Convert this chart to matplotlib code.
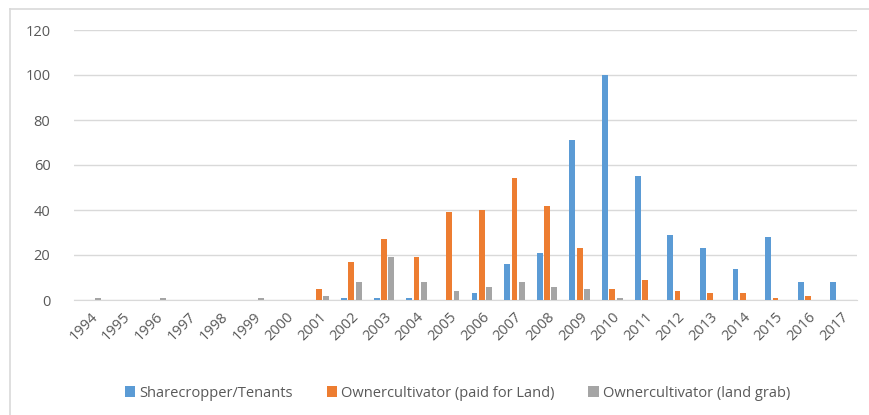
import matplotlib
matplotlib.use("Agg")
import matplotlib.pyplot as plt
import numpy as np

years = [str(y) for y in range(1994, 2018)]
sharecropper = [0, 0, 0, 0, 0, 0, 0, 0, 1, 1, 1, 0, 3, 16, 21, 71, 100, 55, 29, 23, 14, 28, 8, 8]
paid_for_land = [0, 0, 0, 0, 0, 0, 0, 5, 17, 27, 19, 39, 40, 54, 42, 23, 5, 9, 4, 3, 3, 1, 2, 0]
land_grab = [1, 0, 1, 0, 0, 1, 0, 2, 8, 19, 8, 4, 6, 8, 6, 5, 1, 0, 0, 0, 0, 0, 0, 0]

series_names = ["Sharecropper/Tenants", "Ownercultivator (paid for Land)", "Ownercultivator (land grab)"]
colors = ["#5b9bd5", "#ed7d31", "#a5a5a5"]

plt.rcParams['font.family'] = ['Open Sans', 'DejaVu Sans']

W, H = 869, 415
fig = plt.figure(figsize=(W / 100, H / 100), dpi=100)
ax = fig.add_axes([74 / W, 1 - 300 / H, (857 - 74) / W, 270 / H])

x = np.arange(len(years))
w = 0.18
step = 0.225
for i, (vals, name, c) in enumerate(zip([sharecropper, paid_for_land, land_grab], series_names, colors)):
    ax.bar(x + (i - 1) * step, vals, width=w, color=c, label=name, zorder=3)

ax.set_xlim(-0.5, len(years) - 0.5)
ax.set_ylim(0, 120)
ax.set_yticks(range(0, 121, 20))
ax.set_xticks(x)
ax.set_xticklabels(years, rotation=45, ha='right', rotation_mode='anchor')
ax.tick_params(axis='both', colors='#595959', labelsize=10.5, length=0)
ax.tick_params(axis='x', pad=7)
ax.tick_params(axis='y', pad=17)
ax.grid(axis='y', color='#d9d9d9', linewidth=1, zorder=0)
for s in ['top', 'right', 'left']:
    ax.spines[s].set_visible(False)
ax.spines['bottom'].set_color('#d9d9d9')

ax.legend(loc='center', bbox_to_anchor=(0.49, -0.345), ncol=3, frameon=False,
          fontsize=10.5, labelcolor='#595959', handlelength=0.7, handleheight=0.7,
          handletextpad=0.3, columnspacing=2.3)

# chart frame (only top and left edges are inside the picture)
fig.add_artist(plt.Line2D([10 / W, 1], [1 - 9.5 / H, 1 - 9.5 / H], transform=fig.transFigure,
                          color='#d9d9d9', linewidth=1.2))
fig.add_artist(plt.Line2D([10 / W, 10 / W], [0, 1 - 9.5 / H], transform=fig.transFigure,
                          color='#d9d9d9', linewidth=1.2))

fig.savefig("out.png", dpi=100)
